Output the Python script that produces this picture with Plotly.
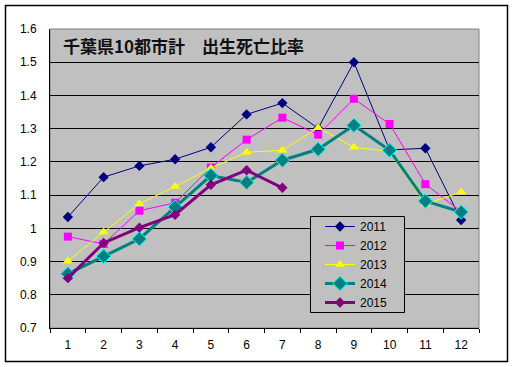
import plotly.graph_objects as go

months = ["1", "2", "3", "4", "5", "6", "7", "8", "9", "10", "11", "12"]
y2011 = [1.034, 1.154, 1.188, 1.208, 1.244, 1.343, 1.377, 1.301, 1.500, 1.236, 1.241, 1.025]
y2012 = [0.975, 0.953, 1.053, 1.077, 1.183, 1.267, 1.333, 1.282, 1.390, 1.314, 1.133, 1.050]
y2013 = [0.902, 0.989, 1.074, 1.126, 1.181, 1.229, 1.235, 1.303, 1.244, 1.231, 1.073, 1.109]
y2014 = [0.863, 0.916, 0.968, 1.064, 1.159, 1.138, 1.205, 1.238, 1.310, 1.235, 1.082, 1.049]
y2015 = [0.850, 0.956, 1.002, 1.041, 1.131, 1.175, 1.122]
ytickvals = [0.7, 0.8, 0.9, 1.0, 1.1, 1.2, 1.3, 1.4, 1.5, 1.6]
yticktext = ["0.7", "0.8", "0.9", "1", "1.1", "1.2", "1.3", "1.4", "1.5", "1.6"]
title_text = "千葉県10都市計　出生死亡比率"

series = [
    ("2011", y2011, "#000080", 1, "diamond", 8, "#000080", 0),
    ("2012", y2012, "#FF00FF", 1, "square", 8, "#FF00FF", 0),
    ("2013", y2013, "#FFFF00", 1, "triangle-up", 9, "#FFFF00", 0),
    ("2014", y2014, "#008080", 3, "diamond", 11, "#00FFFF", 1),
    ("2015", y2015, "#800080", 3, "diamond", 8, "#800080", 0),
]

fig = go.Figure()
for name, vals, color, lw, sym, ms, mlc, mlw in series:
    fig.add_trace(go.Scatter(
        x=months[:len(vals)], y=vals, name=name, mode="lines+markers",
        line=dict(color=color, width=lw),
        marker=dict(symbol=sym, size=ms, color=color, line=dict(color=mlc, width=mlw)),
    ))

W, H = 514, 367
L, R, T, B = 50, 35, 29, 39
pw, ph = W - L - R, H - T - B

def px(x):
    return (x - L) / pw

def py(y):
    return (H - B - y) / ph

fig.update_layout(
    width=W, height=H,
    margin=dict(l=L, r=R, t=T, b=B, pad=0),
    paper_bgcolor="white",
    plot_bgcolor="#C0C0C0",
    font=dict(family="Liberation Sans, Arial, sans-serif", size=12, color="black"),
    showlegend=True,
    legend=dict(
        x=px(320), y=py(212), xanchor="left", yanchor="top",
        bgcolor="rgba(0,0,0,0)", borderwidth=0,
        font=dict(size=12), itemwidth=30, tracegroupgap=0,
    ),
    xaxis=dict(
        type="category", categoryorder="array", categoryarray=months,
        range=[-0.5, 11.5], showgrid=False, showline=True, linecolor="black", linewidth=1,
        ticks="outside", tickson="boundaries", ticklen=4, tickcolor="black",
        tickfont=dict(size=12), ticklabelstandoff=6, zeroline=False,
    ),
    yaxis=dict(
        range=[0.7, 1.6], tickmode="array", tickvals=ytickvals, ticktext=yticktext,
        showgrid=True, gridcolor="black", gridwidth=1, showline=True, linecolor="black",
        linewidth=1, ticks="", tickfont=dict(size=12), ticklabelstandoff=10, zeroline=False,
    ),
    shapes=[
        dict(type="rect", xref="paper", yref="paper", x0=0, x1=1, y0=0, y1=1,
             line=dict(color="#808080", width=1), layer="below"),
        dict(type="rect", xref="paper", yref="paper", x0=px(310.5), x1=px(404.5),
             y0=py(312.5), y1=py(216.5), fillcolor="#C0C0C0",
             line=dict(color="black", width=1), layer="above"),
        dict(type="rect", xref="paper", yref="paper", x0=px(5.5), x1=px(507.5),
             y0=py(361.5), y1=py(5.5), line=dict(color="black", width=1.5)),
    ],
    annotations=[
        dict(text="<b>" + title_text + "</b>", xref="paper", yref="paper",
             x=px(61), y=py(46), xanchor="left", yanchor="middle", showarrow=False,
             font=dict(family="Noto Sans CJK JP", size=17, color="#111111")),
    ],
)

fig.write_html("out.html", config={"displayModeBar": False},
               post_script="document.body.style.margin='0px';document.body.style.padding='0px';")
